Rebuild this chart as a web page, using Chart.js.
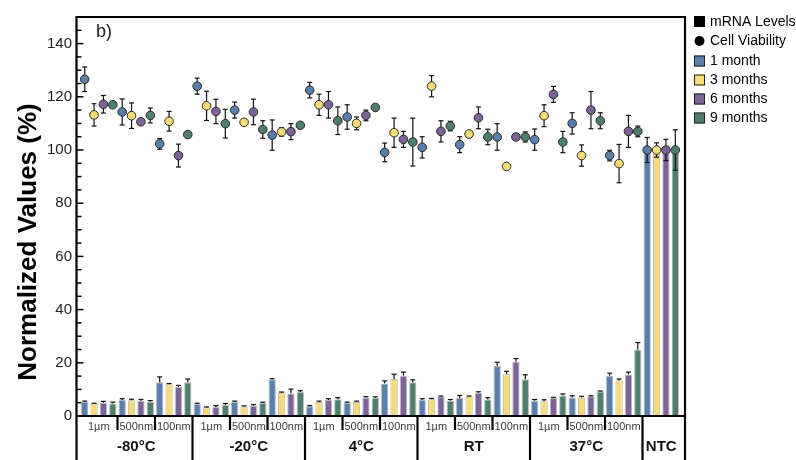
<!DOCTYPE html>
<html>
<head>
<meta charset="utf-8">
<script src="https://cdn.jsdelivr.net/npm/chart.js@4.4.0/dist/chart.umd.min.js"></script>
<style>
  body { margin: 0; background: #fff; }
  #wrap { width: 796px; height: 460px; }
</style>
</head>
<body>
<div id="wrap"><canvas id="chart" width="796" height="460"></canvas></div>
<script>
// groups along the x axis
const sizeLabels = ['1µm', '500nm', '100nm', '1µm', '500nm', '100nm', '1µm', '500nm', '100nm',
  '1µm', '500nm', '100nm', '1µm', '500nm', '100nm', ''];
const tempLabels = ['-80°C', '-20°C', '4°C', 'RT', '37°C', 'NTC'];
const tempSpans = [3, 3, 3, 3, 3, 1];

const monthLabels = ['1 month', '3 months', '6 months', '9 months'];
const monthColors = ['#5a7fab', '#f6dc78', '#7c6498', '#4e7f6c'];

// mRNA levels (bars) and upper error
const mrna1 = [5.3, 6.0, 12.7, 4.6, 5.3, 13.7, 3.7, 5.0, 12.2, 6.0, 6.8, 18.8, 5.7, 7.0, 15.1, 100];
const mrna3 = [4.6, 5.9, 11.9, 3.2, 3.6, 8.7, 5.3, 5.3, 13.9, 6.3, 7.3, 15.7, 5.5, 6.9, 13.3, 100];
const mrna6 = [5.0, 5.7, 10.9, 3.4, 3.8, 8.5, 6.0, 7.0, 15.1, 7.3, 8.7, 20.5, 6.8, 7.4, 15.6, 100];
const mrna9 = [4.7, 5.4, 12.7, 4.1, 4.9, 9.0, 6.3, 6.9, 12.7, 5.7, 6.2, 13.8, 7.7, 9.2, 25.0, 100];
const mrnaErr1 = [0.3, 0.5, 2.0, 0.2, 0.3, 0.3, 0.2, 0.2, 1.0, 0.5, 0.9, 1.4, 0.5, 0.6, 1.0, 0];
const mrnaErr3 = [0.2, 0.4, 0.3, 0.2, 0.2, 0.3, 0.3, 0.3, 1.8, 0.3, 0.2, 1.1, 0.6, 0.5, 0.6, 0];
const mrnaErr6 = [0.5, 0.5, 0.6, 0.5, 0.5, 1.6, 0.5, 0.3, 1.4, 0.2, 0.4, 1.1, 0.2, 0.2, 0.9, 0];
const mrnaErr9 = [0.5, 0.4, 1.2, 0.6, 0.3, 0.5, 0.6, 0.3, 0.9, 0.5, 0.7, 1.7, 0.6, 0.2, 2.6, 0];

// cell viability (points) and +/- error
const via1 = [126.6, 114.3, 102.3, 124.0, 115.0, 105.6, 122.5, 112.4, 99.1, 101.0, 102.0, 104.9, 103.9, 110.0, 97.9, 100];
const via3 = [113.2, 112.9, 110.8, 116.6, 110.4, 106.8, 117.0, 110.0, 106.5, 124.0, 106.0, 93.8, 112.9, 97.9, 94.9, 100];
const via6 = [117.2, 110.6, 97.9, 114.5, 114.3, 106.9, 117.0, 113.0, 104.0, 107.0, 112.1, 104.9, 120.9, 115.0, 107.0, 100];
const via9 = [117.0, 113.0, 105.8, 109.9, 107.7, 109.3, 111.0, 116.0, 103.0, 109.0, 104.9, 104.9, 103.0, 111.0, 107.0, 100];
const viaErr1 = [4.6, 4.9, 2.0, 3.0, 3.0, 5.7, 2.9, 4.6, 3.5, 4.0, 3.0, 5.0, 4.0, 4.0, 2.0, 4.7];
const viaErr3 = [4.2, 4.8, 3.7, 5.5, 0, 1.6, 4.0, 2.4, 5.5, 4.0, 0, 0, 4.1, 4.0, 7.2, 2.7];
const viaErr6 = [3.3, 0, 4.3, 4.6, 4.8, 3.0, 5.0, 2.0, 3.0, 4.0, 4.1, 0, 3.0, 7.0, 6.0, 4.0];
const viaErr9 = [0, 2.8, 0, 5.4, 3.3, 0, 5.2, 0, 9.0, 1.8, 2.9, 1.9, 4.0, 3.0, 2.0, 7.6];

const mrna = [mrna1, mrna3, mrna6, mrna9];
const mrnaErr = [mrnaErr1, mrnaErr3, mrnaErr6, mrnaErr9];
const via = [via1, via3, via6, via9];
const viaErr = [viaErr1, viaErr3, viaErr6, viaErr9];

const FONT = '"Liberation Sans", Arial, Helvetica, sans-serif';
const AXIS_X = 76.5;
const RIGHT_X = 685;

function seg(ctx, x1, y1, x2, y2) {
  ctx.beginPath();
  ctx.moveTo(x1, y1);
  ctx.lineTo(x2, y2);
  ctx.stroke();
}

const decor = {
  id: 'decor',
  afterDatasetsDraw(chart) {
    const ctx = chart.ctx;
    const ys = chart.scales.y;
    ctx.save();
    ctx.strokeStyle = '#111';
    ctx.lineWidth = 1.2;

    // whiskers on top of the bars
    mrna.forEach((vals, d) => {
      chart.getDatasetMeta(d).data.forEach((bar, i) => {
        const e = mrnaErr[d][i];
        if (!e) return;
        const top = ys.getPixelForValue(vals[i] + e);
        seg(ctx, bar.x, bar.y, bar.x, top);
        seg(ctx, bar.x - 2.5, top, bar.x + 2.5, top);
      });
    });

    // cell viability points, sitting over their bar
    via.forEach((vals, d) => {
      chart.getDatasetMeta(d).data.forEach((bar, i) => {
        const py = ys.getPixelForValue(vals[i]);
        const e = viaErr[d][i];
        if (e) {
          const hi = ys.getPixelForValue(vals[i] + e);
          const lo = ys.getPixelForValue(vals[i] - e);
          ctx.strokeStyle = '#111';
          ctx.lineWidth = 1.2;
          seg(ctx, bar.x, hi, bar.x, lo);
          seg(ctx, bar.x - 2.5, hi, bar.x + 2.5, hi);
          seg(ctx, bar.x - 2.5, lo, bar.x + 2.5, lo);
        }
        ctx.beginPath();
        ctx.arc(bar.x, py, 4.3, 0, Math.PI * 2);
        ctx.fillStyle = monthColors[d];
        ctx.fill();
        ctx.lineWidth = 1;
        ctx.strokeStyle = '#2a2a2a';
        ctx.stroke();
      });
    });
    ctx.restore();
  },
  afterDraw(chart) {
    const ctx = chart.ctx;
    const ys = chart.scales.y;
    const xs = chart.scales.x;
    const area = chart.chartArea;
    const zeroY = ys.getPixelForValue(0);
    ctx.save();

    // frame
    ctx.strokeStyle = '#000';
    ctx.lineWidth = 2.2;
    seg(ctx, AXIS_X, area.top, AXIS_X, 460);
    seg(ctx, RIGHT_X, area.top, RIGHT_X, 460);
    seg(ctx, AXIS_X - 1, area.top, RIGHT_X + 1, area.top);
    seg(ctx, AXIS_X, zeroY, RIGHT_X, zeroY);

    // inward y ticks every 5
    ctx.lineWidth = 1.5;
    for (let v = 5; v < 150; v += 5) {
      const py = ys.getPixelForValue(v);
      seg(ctx, AXIS_X, py, AXIS_X + (v % 20 === 0 ? 7 : 5), py);
    }

    // group dividers under the axis
    const step = (area.right - area.left) / sizeLabels.length;
    ctx.lineWidth = 2.2;
    let idx = 0;
    tempSpans.forEach((span, t) => {
      for (let k = 1; k < span; k++) {
        const x = area.left + step * (idx + k);
        seg(ctx, x, zeroY, x, zeroY + 14);
      }
      idx += span;
      if (t < tempSpans.length - 1) {
        const x = area.left + step * idx;
        seg(ctx, x, zeroY, x, 460);
      }
    });

    // size labels
    ctx.fillStyle = '#3a3a3a';
    ctx.font = '11px ' + FONT;
    ctx.textAlign = 'center';
    ctx.textBaseline = 'middle';
    sizeLabels.forEach((lab, i) => {
      ctx.fillText(lab, xs.getPixelForValue(i), zeroY + 11);
    });

    // temperature labels
    ctx.fillStyle = '#111';
    ctx.font = 'bold 15px ' + FONT;
    idx = 0;
    tempSpans.forEach((span, t) => {
      const x = area.left + step * (idx + span / 2);
      ctx.fillText(tempLabels[t], x, zeroY + 31);
      idx += span;
    });

    // y title
    ctx.save();
    ctx.translate(29, 242);
    ctx.rotate(-Math.PI / 2);
    ctx.font = 'bold 26px ' + FONT;
    ctx.fillStyle = '#000';
    ctx.fillText('Normalized Values (%)', 0, 0);
    ctx.restore();

    // panel tag
    ctx.font = '18px ' + FONT;
    ctx.fillStyle = '#222';
    ctx.textAlign = 'left';
    ctx.fillText('b)', 96, 32);

    // legend
    const lx = 694;
    ctx.font = '14px ' + FONT;
    ctx.fillStyle = '#000';
    ctx.fillRect(lx, 16, 11, 11);
    ctx.fillText('mRNA Levels', lx + 16, 22);
    ctx.beginPath();
    ctx.arc(lx + 5.5, 41, 5, 0, Math.PI * 2);
    ctx.fill();
    ctx.fillText('Cell Viability', lx + 16, 41);
    monthLabels.forEach((lab, d) => {
      const cy = 61 + d * 19;
      ctx.fillStyle = monthColors[d];
      ctx.fillRect(lx, cy - 5.5, 11, 11);
      ctx.strokeStyle = '#222';
      ctx.lineWidth = 1;
      ctx.strokeRect(lx + 0.5, cy - 5, 10, 10);
      ctx.fillStyle = '#000';
      ctx.fillText(lab, lx + 16, cy);
    });
    ctx.restore();
  }
};

const datasets = mrna.map((vals, d) => ({
  label: monthLabels[d],
  data: vals,
  backgroundColor: monthColors[d],
  borderColor: 'rgba(0,0,0,0.28)',
  borderWidth: 1,
  borderSkipped: 'bottom',
  categoryPercentage: 1.0,
  barPercentage: 0.78,
}));

new Chart(document.getElementById('chart'), {
  type: 'bar',
  data: { labels: sizeLabels, datasets },
  options: {
    responsive: false,
    animation: false,
    events: [],
    layout: { padding: { left: 0, right: 116, top: 10, bottom: 44 } },
    plugins: { legend: { display: false }, tooltip: { enabled: false } },
    scales: {
      x: { display: false, offset: true },
      y: {
        min: 0,
        max: 150,
        afterFit: (scale) => { scale.width = 80; },
        grid: { display: false, drawTicks: false },
        border: { display: false },
        ticks: {
          stepSize: 20,
          padding: 8,
          color: '#222',
          font: { family: FONT, size: 15 },
          callback: (v) => (v % 20 === 0 && v <= 140 ? v : ''),
        },
      },
    },
  },
  plugins: [decor],
});
</script>
</body>
</html>
